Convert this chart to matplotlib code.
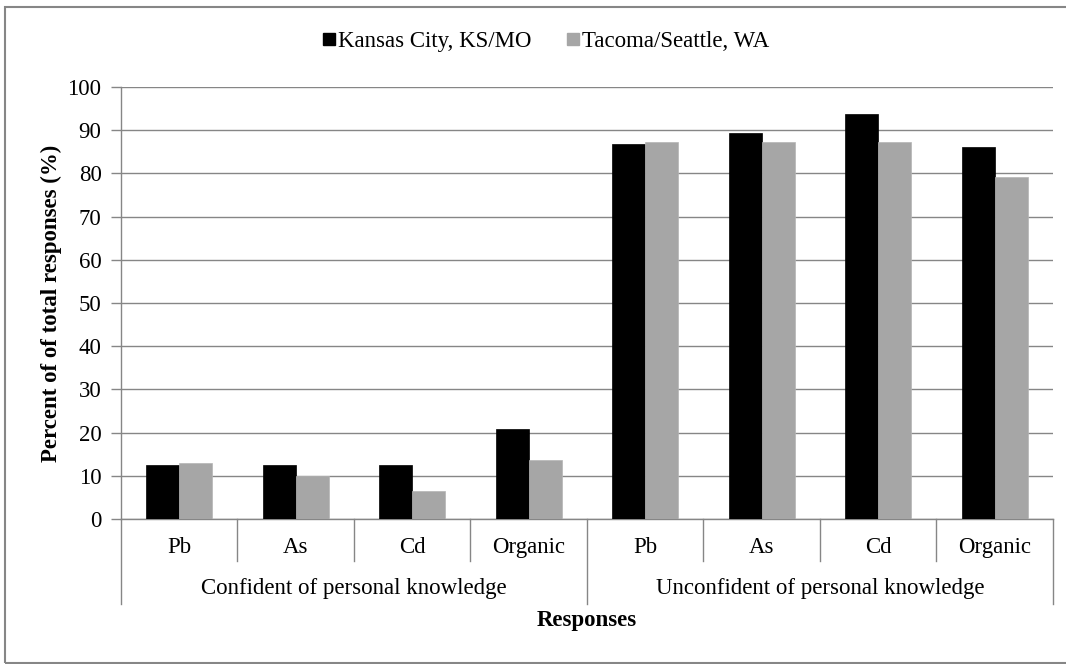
import numpy as np
import matplotlib
matplotlib.use("Agg")
from matplotlib import pyplot as plt
from matplotlib.lines import Line2D
from matplotlib.patches import Rectangle

plt.rcParams["font.family"] = ["Liberation Serif", "DejaVu Serif"]
plt.rcParams["font.size"] = 16.5

groups = ["Confident of personal knowledge", "Unconfident of personal knowledge"]
analytes = ["Pb", "As", "Cd", "Organic"]
kansas = [12.5, 12.5, 12.5, 20.8, 86.7, 89.4, 93.7, 86.2]
tacoma = [13.0, 10.0, 6.5, 13.6, 87.3, 87.3, 87.3, 79.1]
series_names = ["Kansas City, KS/MO", "Tacoma/Seattle, WA"]

GRID = "#868686"
BLACK = "#000000"
GREY = "#a6a6a6"

fig = plt.figure(figsize=(10.66, 6.64), dpi=100)
ax = fig.add_axes([0.1135, 0.2184, 0.8743, 0.6506])

x = np.arange(len(kansas))
w = 0.283
ax.bar(x - w / 2, kansas, w, color=BLACK, edgecolor=BLACK, linewidth=0.5, zorder=3)
ax.bar(x + w / 2, tacoma, w, color=GREY, edgecolor="#b5b5b5", linewidth=0.5, zorder=3)

ax.set_xlim(-0.5, len(kansas) - 0.5)
ax.set_ylim(0, 100)
ax.set_yticks(range(0, 101, 10))
ax.yaxis.grid(True, color=GRID, linewidth=1)
ax.set_axisbelow(True)
ax.tick_params(axis="y", direction="out", length=7, width=1, color=GRID, pad=7)
ax.set_xticks([])
for s in ["top", "right"]:
    ax.spines[s].set_visible(False)
for s in ["left", "bottom"]:
    ax.spines[s].set_color(GRID)
    ax.spines[s].set_linewidth(1)

# two-level category axis
trans = ax.get_xaxis_transform()
for i, lab in enumerate(analytes * len(groups)):
    ax.text(i, -0.067, lab, transform=trans, ha="center", va="center")
for b in [0.5, 1.5, 2.5, 4.5, 5.5, 6.5]:
    ax.plot([b, b], [0, -0.097], transform=trans, color=GRID, lw=1, clip_on=False)
for b in [-0.5, 3.5, 7.5]:
    ax.plot([b, b], [0, -0.197], transform=trans, color=GRID, lw=1, clip_on=False)
for g, lab in enumerate(groups):
    ax.text(g * 4 + 1.5, -0.162, lab, transform=trans, ha="center", va="center")
ax.text(3.5, -0.236, "Responses", transform=trans, ha="center", va="center",
        fontweight="bold")

ax.set_ylabel("Percent of of total responses (%)", fontweight="bold", labelpad=4)

handles = [Line2D([], [], marker="s", linestyle="none", markersize=8,
                  markerfacecolor=c, markeredgecolor=c) for c in (BLACK, GREY)]
fig.legend(handles, series_names, loc="center", bbox_to_anchor=(0.512, 0.937),
           ncol=2, frameon=False, handlelength=0.6, handletextpad=0.1,
           columnspacing=1.5, borderaxespad=0)

fig.patches.append(Rectangle((5 / 1066, 1 / 664), 1.2, 656 / 664,
                             transform=fig.transFigure, fill=False,
                             edgecolor=GRID, linewidth=1.5))

fig.savefig("out.png", dpi=100)
